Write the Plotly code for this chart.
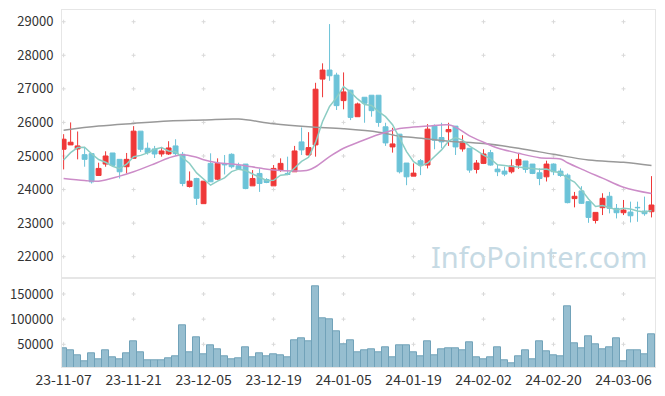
import plotly.graph_objects as go
import pandas as pd

dates = [
    "23-11-07", "23-11-08", "23-11-09", "23-11-10", "23-11-13", "23-11-14", "23-11-15", "23-11-16", "23-11-17", "23-11-20",
    "23-11-21", "23-11-22", "23-11-23", "23-11-24", "23-11-27", "23-11-28", "23-11-29", "23-11-30", "23-12-01", "23-12-04",
    "23-12-05", "23-12-06", "23-12-07", "23-12-08", "23-12-11", "23-12-12", "23-12-13", "23-12-14", "23-12-15", "23-12-18",
    "23-12-19", "23-12-20", "23-12-21", "23-12-22", "23-12-26", "23-12-27", "23-12-28", "24-01-02", "24-01-03", "24-01-04",
    "24-01-05", "24-01-08", "24-01-09", "24-01-10", "24-01-11", "24-01-12", "24-01-15", "24-01-16", "24-01-17", "24-01-18",
    "24-01-19", "24-01-22", "24-01-23", "24-01-24", "24-01-25", "24-01-26", "24-01-29", "24-01-30", "24-01-31", "24-02-01",
    "24-02-02", "24-02-05", "24-02-06", "24-02-07", "24-02-08", "24-02-13", "24-02-14", "24-02-15", "24-02-16", "24-02-19",
    "24-02-20", "24-02-21", "24-02-22", "24-02-23", "24-02-26", "24-02-27", "24-02-28", "24-02-29", "24-03-04", "24-03-05",
    "24-03-06", "24-03-07", "24-03-08", "24-03-11", "24-03-12",
]

opens = [25200, 25330, 25210, 25040, 25070, 24420, 24760, 25090, 24900, 24680,
         24930, 25740, 25230, 25210, 25060, 25060, 25300, 25050, 24090, 24330,
         23580, 24780, 24310, 24770, 25050, 24710, 24760, 24110, 24480, 24300,
         24110, 24580, 24480, 24530, 25420, 25030, 25330, 27290, 27560, 27410,
         26650, 26960, 26170, 26750, 26810, 26810, 25870, 25270, 25650, 24790,
         24400, 24860, 24730, 25890, 25550, 25720, 25890, 25210, 25230, 24600,
         24780, 25100, 24610, 24550, 24530, 24730, 24850, 24760, 24500, 24380,
         24760, 24550, 24430, 23730, 23960, 23640, 23080, 23460, 23800, 23440,
         23310, 23330, 23470, 23360, 23340]

highs = [25650, 26000, 25730, 25270, 25090, 24800, 25140, 25090, 24900, 25090,
         25890, 25740, 25400, 25300, 25270, 25440, 25500, 25120, 24540, 24350,
         24250, 25080, 24930, 25030, 25080, 24800, 24760, 24580, 24630, 24340,
         24730, 24930, 24980, 25300, 25850, 25710, 27180, 27760, 28930, 27480,
         27490, 26970, 26590, 26750, 26810, 26810, 25990, 25840, 25650, 24790,
         24780, 24910, 25950, 25940, 25990, 25990, 25890, 25620, 25230, 24880,
         25200, 25180, 24760, 24680, 24900, 25060, 24850, 24760, 24630, 24860,
         24780, 24630, 24480, 23930, 24100, 23650, 23320, 23890, 23930, 23570,
         23690, 23640, 23640, 23790, 24400]

lows = [24600, 25330, 24900, 24680, 24180, 24420, 24680, 24690, 24330, 24480,
        24930, 25120, 25040, 24940, 24980, 25030, 25010, 24100, 24060, 23540,
        23580, 24230, 24280, 24450, 24630, 24580, 24010, 24110, 23930, 24190,
        24110, 24530, 24430, 24530, 25030, 25030, 24980, 26750, 27240, 26370,
        26390, 26070, 26170, 25990, 26170, 25870, 25300, 25100, 24480, 24130,
        24400, 24430, 24630, 25200, 25230, 25300, 25030, 25130, 24500, 24480,
        24760, 24710, 24400, 24400, 24480, 24620, 24500, 24460, 24130, 24240,
        24430, 24380, 23590, 23470, 23570, 23010, 22990, 23240, 23290, 23140,
        23240, 23020, 23040, 23220, 23170]

closes = [25500, 25410, 25300, 24900, 24230, 24630, 25000, 24720, 24530, 24900,
          25740, 25200, 25100, 25060, 25150, 25240, 25070, 24180, 24250, 23740,
          24250, 24230, 24780, 24740, 24680, 24610, 24030, 24330, 24180, 24210,
          24630, 24780, 24450, 25150, 25180, 25250, 26990, 27560, 27390, 26500,
          26910, 26150, 26550, 26570, 26350, 26000, 25390, 25360, 24530, 24380,
          24490, 24730, 25800, 25470, 25420, 25790, 25270, 25420, 24580, 24790,
          25060, 24730, 24530, 24460, 24700, 24900, 24600, 24480, 24330, 24760,
          24530, 24420, 23610, 23800, 23590, 23170, 23320, 23740, 23440, 23310,
          23390, 23220, 23460, 23280, 23540]

volumes = [42000, 38000, 28000, 16000, 32000, 20000, 38000, 24000, 21000, 32000,
           56000, 34000, 18000, 18000, 18000, 22000, 26000, 88000, 34000, 64000,
           30000, 48000, 40000, 26000, 20000, 22000, 44000, 24000, 32000, 26000,
           30000, 28000, 24000, 58000, 62000, 56000, 165000, 101000, 100000, 75000,
           50000, 58000, 34000, 38000, 40000, 34000, 44000, 24000, 48000, 48000,
           34000, 26000, 56000, 28000, 40000, 42000, 42000, 38000, 54000, 24000,
           20000, 24000, 44000, 18000, 12000, 26000, 38000, 20000, 56000, 36000,
           28000, 26000, 125000, 52000, 42000, 66000, 50000, 40000, 44000, 62000,
           16000, 38000, 38000, 30000, 70000]

# moving averages (first 5-day values need earlier history)
ma5_head = [24880, 25100, 25250, 25260]
ma20_idx = [0, 3, 5, 8, 10, 13, 15, 17, 19, 20, 22, 25, 28, 30, 33, 35, 36, 38, 40, 42,
            45, 48, 50, 52, 55, 56, 58, 60, 62, 65, 68, 71, 72, 74, 77, 80, 84]
ma20_val = [24330, 24270, 24250, 24400, 24530, 24770, 24940, 25040, 24960, 24890, 24800, 24740,
            24640, 24580, 24550, 24580, 24680, 24980, 25230, 25400, 25640, 25820, 25860, 25890,
            25930, 25860, 25600, 25410, 25240, 25080, 24950, 24910, 24800, 24610, 24340, 24070, 23880]
ma60_idx = [0, 5, 10, 15, 20, 25, 30, 35, 40, 45, 48, 50, 55, 60, 65, 70, 75, 80, 84]
ma60_val = [25770, 25890, 25970, 26040, 26070, 26100, 25960, 25870, 25810, 25710, 25590, 25550,
            25440, 25370, 25230, 25050, 24880, 24810, 24715]

price_ticks = [22000, 23000, 24000, 25000, 26000, 27000, 28000, 29000]
vol_ticks = [50000, 100000, 150000]
tick_idx = [0, 10, 20, 30, 40, 50, 60, 70, 80]

ma5 = ma5_head + pd.Series(closes).rolling(5).mean().iloc[4:].tolist()

RED = "#ef3838"
BLUE = "#6cc3d8"
GRID = "#d9d9d9"
LINE = "#e6e6e6"
FONT = "Noto Sans CJK KR, Noto Sans, sans-serif"

tick_dates = [dates[i] for i in tick_idx]

fig = go.Figure()

fig.add_trace(go.Candlestick(
    x=dates, open=opens, high=highs, low=lows, close=closes,
    increasing=dict(line=dict(color=RED, width=1), fillcolor=RED),
    decreasing=dict(line=dict(color=BLUE, width=1), fillcolor=BLUE),
    whiskerwidth=0, xaxis="x", yaxis="y", showlegend=False))

fig.add_trace(go.Scatter(x=[dates[i] for i in ma60_idx], y=ma60_val, mode="lines",
                         line=dict(color="#999999", width=1.5, shape="spline"),
                         xaxis="x", yaxis="y", showlegend=False))
fig.add_trace(go.Scatter(x=[dates[i] for i in ma20_idx], y=ma20_val, mode="lines",
                         line=dict(color="#cc8cc8", width=1.5, shape="spline"),
                         xaxis="x", yaxis="y", showlegend=False))
fig.add_trace(go.Scatter(x=dates, y=ma5, mode="lines",
                         line=dict(color="#8ccdc4", width=1.5),
                         xaxis="x", yaxis="y", showlegend=False))

fig.add_trace(go.Bar(x=dates, y=volumes, marker=dict(color="#96bed0", line=dict(color="#71a2b9", width=1)),
                     xaxis="x2", yaxis="y2", showlegend=False))

# small "+" grid marks at tick intersections, drawn beneath the data
shapes = []
for axx, axy, vals in (("x", "y", price_ticks), ("x2", "y2", vol_ticks)):
    for i in tick_idx:
        for v in vals:
            common = dict(type="line", xref=axx, yref=axy, xsizemode="pixel", ysizemode="pixel",
                          xanchor=i, yanchor=v, layer="below", line=dict(color=GRID, width=1))
            shapes.append(dict(common, x0=-2, x1=2, y0=0, y1=0))
            shapes.append(dict(common, x0=0, x1=0, y0=-2, y1=2))

split = 0.2485
xr = [-0.23, 84.5]
fig.update_layout(
    width=649, height=380,
    margin=dict(l=54, r=2, t=2, b=21),
    paper_bgcolor="white", plot_bgcolor="white",
    font=dict(family=FONT, size=13, color="#333333"),
    boxgap=0.3, boxgroupgap=0.0,
    bargap=0.0,
    shapes=shapes,
    xaxis=dict(type="category", categoryorder="array", categoryarray=dates, range=xr,
               domain=[0, 1], anchor="y", showticklabels=False, showgrid=False,
               showline=True, mirror=True, linecolor=LINE, rangeslider=dict(visible=False),
               zeroline=False, automargin=False),
    yaxis=dict(domain=[split, 1], range=[21357, 29349], tickvals=price_ticks,
               ticktext=[str(p) for p in price_ticks], automargin=False,
               showgrid=False, showline=True, mirror=True, linecolor=LINE, zeroline=False,
               ticks="outside", ticklen=5, tickcolor="rgba(0,0,0,0)"),
    xaxis2=dict(type="category", categoryorder="array", categoryarray=dates, range=xr,
                domain=[0, 1], anchor="y2", tickvals=tick_dates, ticktext=tick_dates,
                showgrid=False, showline=True, mirror=True, linecolor=LINE, zeroline=False,
                tickfont=dict(size=14), automargin=False),
    yaxis2=dict(domain=[0, split], range=[4900, 181200], tickvals=vol_ticks,
                ticktext=[str(v) for v in vol_ticks], automargin=False,
                showgrid=False, showline=True, mirror=True, linecolor=LINE, zeroline=False,
                ticks="outside", ticklen=5, tickcolor="rgba(0,0,0,0)"),
    annotations=[dict(text="InfoPointer.com", xref="paper", yref="paper", x=0.99, y=0.31,
                      xanchor="right", yanchor="middle", showarrow=False,
                      font=dict(family="Noto Sans, sans-serif", size=29, color="#c6dae4"))],
)

fig.write_html("out.html")
